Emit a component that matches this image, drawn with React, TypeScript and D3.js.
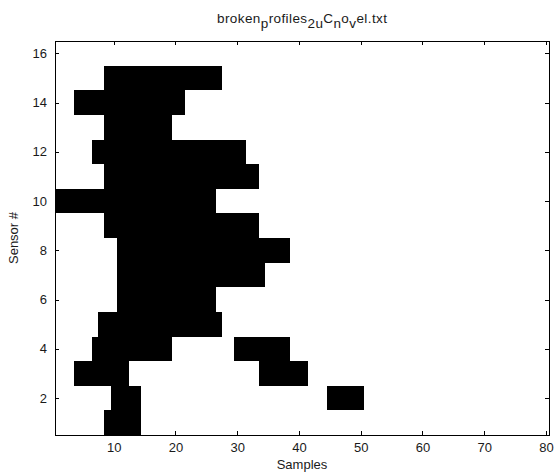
import * as d3 from "d3";
import React from "react";

// black runs of the sensor image: sensor row, first sample, last sample
const sensorRows = [15, 14, 13, 12, 11, 10, 9, 8, 7, 6, 5, 4, 4, 3, 3, 2, 2, 1];
const runStarts = [9, 4, 9, 7, 9, 1, 9, 11, 11, 11, 8, 7, 30, 4, 34, 10, 45, 9];
const runEnds = [27, 21, 19, 31, 33, 26, 33, 38, 34, 26, 27, 19, 38, 12, 41, 14, 50, 14];

const xTicks = [10, 20, 30, 40, 50, 60, 70, 80];
const yTicks = [2, 4, 6, 8, 10, 12, 14, 16];

// title as drawn by the tex interpreter, subscripts flagged
const titleTexts = ["broken", "p", "rofiles", "2u", "C", "n", "o", "v", "el.txt"];
const titleSubs = [false, true, false, true, false, true, false, true, false];

const xLabel = "Samples";
const yLabel = "Sensor #";

const svgWidth = 554;
const svgHeight = 476;
const font = "'Liberation Sans', Arial, Helvetica, sans-serif";

class SensorImage extends React.PureComponent<any, any> {
    svgRef: any;

    constructor(props: any) {
        super(props)
        this.svgRef = React.createRef()
    }

    componentDidMount() {
        this.draw()
    }

    draw() {
        const svg = d3.select(this.svgRef.current);
        svg.selectAll("*").remove();

        const left = 55, right = 549, top = 41, bottom = 435;

        const xScale = d3.scaleLinear().domain([0.5, 80.5]).range([left, right]);
        const yScale = d3.scaleLinear().domain([0.5, 16.5]).range([bottom, top]);

        svg.append("rect")
            .attr("width", svgWidth)
            .attr("height", svgHeight)
            .attr("fill", "#ffffff");

        /*
        cells
         */
        const runs = sensorRows.map((row, i) => ({ row, start: runStarts[i], end: runEnds[i] }));
        svg.append("g")
            .selectAll("rect")
            .data(runs)
            .enter()
            .append("rect")
            .attr("x", d => xScale(d.start - 0.5))
            .attr("y", d => yScale(d.row + 0.5))
            .attr("width", d => xScale(d.end + 0.5) - xScale(d.start - 0.5))
            .attr("height", d => yScale(d.row - 0.5) - yScale(d.row + 0.5))
            .attr("fill", "#000000")
            .attr("shape-rendering", "crispEdges");

        /*
        axes, ticks pointing inward on all four sides
         */
        const styleAxis = (g: any, labels: boolean) => {
            g.select(".domain").remove();
            g.selectAll(".tick line").attr("stroke", "#000").attr("shape-rendering", "crispEdges");
            g.selectAll(".tick text")
                .style("font-family", font)
                .style("font-size", "13px")
                .attr("fill", "#1a1a1a");
            if (!labels) g.selectAll(".tick text").remove();
        };

        svg.append("g")
            .attr("transform", `translate(0,${bottom})`)
            .call(d3.axisBottom(xScale).tickValues(xTicks).tickSize(-4).tickPadding(8))
            .call((g: any) => styleAxis(g, true));
        svg.append("g")
            .attr("transform", `translate(0,${top})`)
            .call(d3.axisTop(xScale).tickValues(xTicks).tickSize(-4))
            .call((g: any) => styleAxis(g, false));
        svg.append("g")
            .attr("transform", `translate(${left},0)`)
            .call(d3.axisLeft(yScale).tickValues(yTicks).tickSize(-4).tickPadding(8))
            .call((g: any) => styleAxis(g, true));
        svg.append("g")
            .attr("transform", `translate(${right},0)`)
            .call(d3.axisRight(yScale).tickValues(yTicks).tickSize(-4))
            .call((g: any) => styleAxis(g, false));

        svg.append("rect")
            .attr("x", left)
            .attr("y", top)
            .attr("width", right - left)
            .attr("height", bottom - top)
            .attr("fill", "none")
            .attr("stroke", "#000")
            .attr("shape-rendering", "crispEdges");

        /*
        labels
         */
        const title = svg.append("text")
            .attr("x", (left + right) / 2)
            .attr("y", 22.5)
            .attr("text-anchor", "middle")
            .attr("textLength", 170)
            .attr("lengthAdjust", "spacing")
            .style("font-family", font)
            .style("font-size", "13.5px")
            .attr("fill", "#1a1a1a");
        let shifted = false;
        titleTexts.forEach((t, i) => {
            const sub = titleSubs[i];
            const span = title.append("tspan").text(t);
            if (sub && !shifted) { span.attr("dy", 5.5); shifted = true; }
            if (!sub && shifted) { span.attr("dy", -5.5); shifted = false; }
        });

        svg.append("text")
            .attr("x", (left + right) / 2)
            .attr("y", 469)
            .attr("text-anchor", "middle")
            .style("font-family", font)
            .style("font-size", "13px")
            .attr("fill", "#1a1a1a")
            .text(xLabel);

        svg.append("text")
            .attr("transform", `translate(18,${(top + bottom) / 2}) rotate(-90)`)
            .attr("text-anchor", "middle")
            .style("font-family", font)
            .style("font-size", "13px")
            .attr("fill", "#1a1a1a")
            .text(yLabel);
    }

    render() {
        return (
            <svg ref={this.svgRef} width={svgWidth} height={svgHeight}
                style={{ position: "absolute", left: 0, top: 0, display: "block" }} />
        )
    }
}

export default function App() {
    return <SensorImage />
}
